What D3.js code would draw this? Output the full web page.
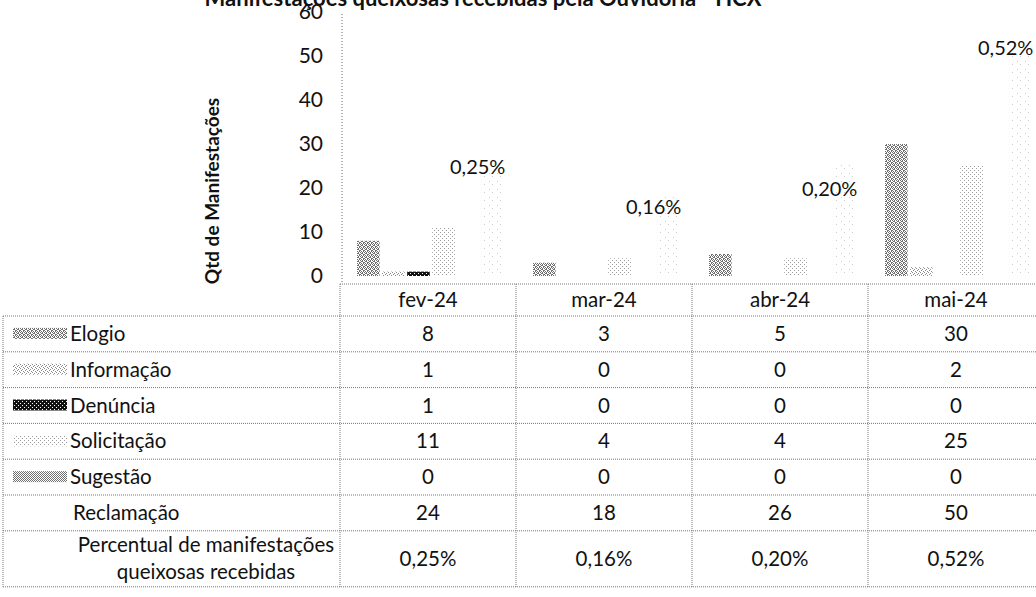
<!DOCTYPE html>
<html>
<head>
<meta charset="utf-8">
<script src="https://cdn.jsdelivr.net/npm/d3@7"></script>
<style>
  body { margin: 0; background: #fff; }
  svg text { font-family: Lato, "Liberation Sans", sans-serif; fill: #111; }
</style>
</head>
<body>
<div id="chart"></div>
<script>
// data
const months = ["fev-24", "mar-24", "abr-24", "mai-24"];
const series = ["Elogio", "Informação", "Denúncia", "Solicitação", "Sugestão", "Reclamação"];
const elogio = [8, 3, 5, 30];
const informacao = [1, 0, 0, 2];
const denuncia = [1, 0, 0, 0];
const solicitacao = [11, 4, 4, 25];
const sugestao = [0, 0, 0, 0];
const reclamacao = [24, 18, 26, 50];
const percentual = [0.25, 0.16, 0.20, 0.52];
const yTicks = [0, 10, 20, 30, 40, 50, 60];

const values = [elogio, informacao, denuncia, solicitacao, sugestao, reclamacao];

const width = 1036, height = 597;
const svg = d3.select("#chart").append("svg")
  .attr("width", width)
  .attr("height", height);

// scanned-looking fills (small pixel tiles)
const defs = svg.append("defs");
const tiles = {
  "Elogio":      { fg: "#6e6e6e", bits: ["1010", "0110", "1001", "0101"] },
  "Informação":  { fg: "#8a8a8a", bits: ["1000", "0010", "0100", "0001"] },
  "Denúncia":    { fg: "#111111", bits: ["1111", "1101", "1111", "0111"] },
  "Solicitação": { fg: "#9a9a9a", bits: ["1000", "0000", "0010", "0000"] },
  "Sugestão":    { fg: "#707070", bits: ["1010", "0101", "1010", "0101"] },
  "Reclamação":  { fg: "#cfcfcf", bits: ["10000000", "00000000", "00000000", "00000000", "00000000", "00000100", "00000000", "00000000"] }
};
series.forEach((s, i) => {
  const t = tiles[s];
  const n = t.bits.length;
  const p = defs.append("pattern")
    .attr("id", "pat" + i)
    .attr("patternUnits", "userSpaceOnUse")
    .attr("width", n).attr("height", n);
  p.append("rect").attr("width", n).attr("height", n).attr("fill", "#fff");
  t.bits.forEach((row, r) => {
    row.split("").forEach((b, c) => {
      if (b === "1") p.append("rect").attr("x", c).attr("y", r).attr("width", 1).attr("height", 1).attr("fill", t.fg);
    });
  });
});

// scales
const x0 = d3.scaleBand().domain(months).range([340, 1044]);
const x1 = d3.scaleBand().domain(series).range([17, 165]).paddingInner(0.1);
const y = d3.scaleLinear().domain([0, 60]).range([276, 12]);
const yPct = d3.scaleLinear().domain([0, 0.6]).range([276, 12]);

// title (cut at the top edge in the scan)
svg.append("text")
  .attr("x", 483)
  .attr("y", 6)
  .attr("text-anchor", "middle")
  .style("font-size", "22px")
  .style("font-weight", "bold")
  .text("Manifestações queixosas recebidas pela Ouvidoria - HCX");

// y axis
const yAxis = svg.append("g")
  .attr("transform", "translate(342,0)")
  .call(d3.axisLeft(y).tickValues(yTicks).tickSize(0).tickPadding(19));
yAxis.select(".domain").remove();
yAxis.selectAll("text").style("font-size", "21px").style("font-family", "Lato, sans-serif");
svg.append("line")
  .attr("x1", 342).attr("x2", 342).attr("y1", 14).attr("y2", 284)
  .attr("stroke", "#666").attr("stroke-dasharray", "1,2");

// y title
svg.append("text")
  .attr("transform", "translate(219,191) rotate(-90)")
  .attr("text-anchor", "middle")
  .style("font-size", "19px")
  .style("font-weight", "bold")
  .text("Qtd de Manifestações");

// bars
const groups = svg.selectAll(".month")
  .data(months)
  .enter().append("g")
  .attr("class", "month")
  .attr("transform", d => `translate(${x0(d)},0)`);

groups.selectAll("rect")
  .data((m, mi) => series.map((s, si) => ({ s, si, v: values[si][mi] })))
  .enter().append("rect")
  .attr("x", d => x1(d.s))
  .attr("width", x1.bandwidth())
  .attr("y", d => y(d.v))
  .attr("height", d => y(0) - y(d.v))
  .attr("fill", d => `url(#pat${d.si})`);

// percent labels (line itself not visible in the scan)
svg.selectAll(".pct")
  .data(percentual)
  .enter().append("text")
  .attr("class", "pct")
  .attr("x", (d, i) => x0(months[i]) + x0.bandwidth() / 2 + 22)
  .attr("y", d => yPct(d) + 8)
  .style("font-size", "20px")
  .text(d => d.toFixed(2).replace(".", ",") + "%");

// data table
const fs = "20.5px";
const tableTop = 284, headBottom = 316, rowH = 35.8, lastH = 56;
const rowTops = series.map((s, i) => headBottom + i * rowH);
const pctTop = headBottom + series.length * rowH;
const tableBottom = pctTop + lastH;
const dotted = sel => sel.attr("stroke", "#777").attr("stroke-width", 1).attr("stroke-dasharray", "1,1");

// horizontal lines
svg.append("line").attr("x1", 340).attr("x2", 1036).attr("y1", tableTop).attr("y2", tableTop).call(dotted);
[headBottom, ...rowTops.slice(1), pctTop, tableBottom].forEach(yy => {
  svg.append("line").attr("x1", 3).attr("x2", 1036).attr("y1", yy).attr("y2", yy).call(dotted);
});
// vertical lines
svg.append("line").attr("x1", 3).attr("x2", 3).attr("y1", headBottom).attr("y2", tableBottom).call(dotted);
months.forEach(m => {
  svg.append("line").attr("x1", x0(m)).attr("x2", x0(m)).attr("y1", tableTop).attr("y2", tableBottom).call(dotted);
});

// header
svg.selectAll(".head")
  .data(months)
  .enter().append("text")
  .attr("x", d => x0(d) + x0.bandwidth() / 2)
  .attr("y", (tableTop + headBottom) / 2 + 7)
  .attr("text-anchor", "middle")
  .style("font-size", fs)
  .text(d => d);

// legend column + values
series.forEach((s, si) => {
  const cy = rowTops[si] + rowH / 2;
  if (s !== "Reclamação") {
    svg.append("rect")
      .attr("x", 13).attr("y", cy - 6)
      .attr("width", 54).attr("height", 11)
      .attr("fill", `url(#pat${si})`);
  }
  svg.append("text")
    .attr("x", s === "Reclamação" ? 73 : 70)
    .attr("y", cy + 7)
    .style("font-size", fs)
    .text(s);
  months.forEach((m, mi) => {
    svg.append("text")
      .attr("x", x0(m) + x0.bandwidth() / 2)
      .attr("y", cy + 7)
      .attr("text-anchor", "middle")
      .style("font-size", fs)
      .text(values[si][mi]);
  });
});

// percent row
const pcy = pctTop + lastH / 2;
svg.append("text").attr("x", 206).attr("y", pcy - 7)
  .attr("text-anchor", "middle").style("font-size", fs)
  .text("Percentual de manifestações");
svg.append("text").attr("x", 206).attr("y", pcy + 20)
  .attr("text-anchor", "middle").style("font-size", fs)
  .text("queixosas recebidas");
months.forEach((m, mi) => {
  svg.append("text")
    .attr("x", x0(m) + x0.bandwidth() / 2)
    .attr("y", pcy + 7)
    .attr("text-anchor", "middle")
    .style("font-size", fs)
    .text(percentual[mi].toFixed(2).replace(".", ",") + "%");
});
</script>
</body>
</html>
